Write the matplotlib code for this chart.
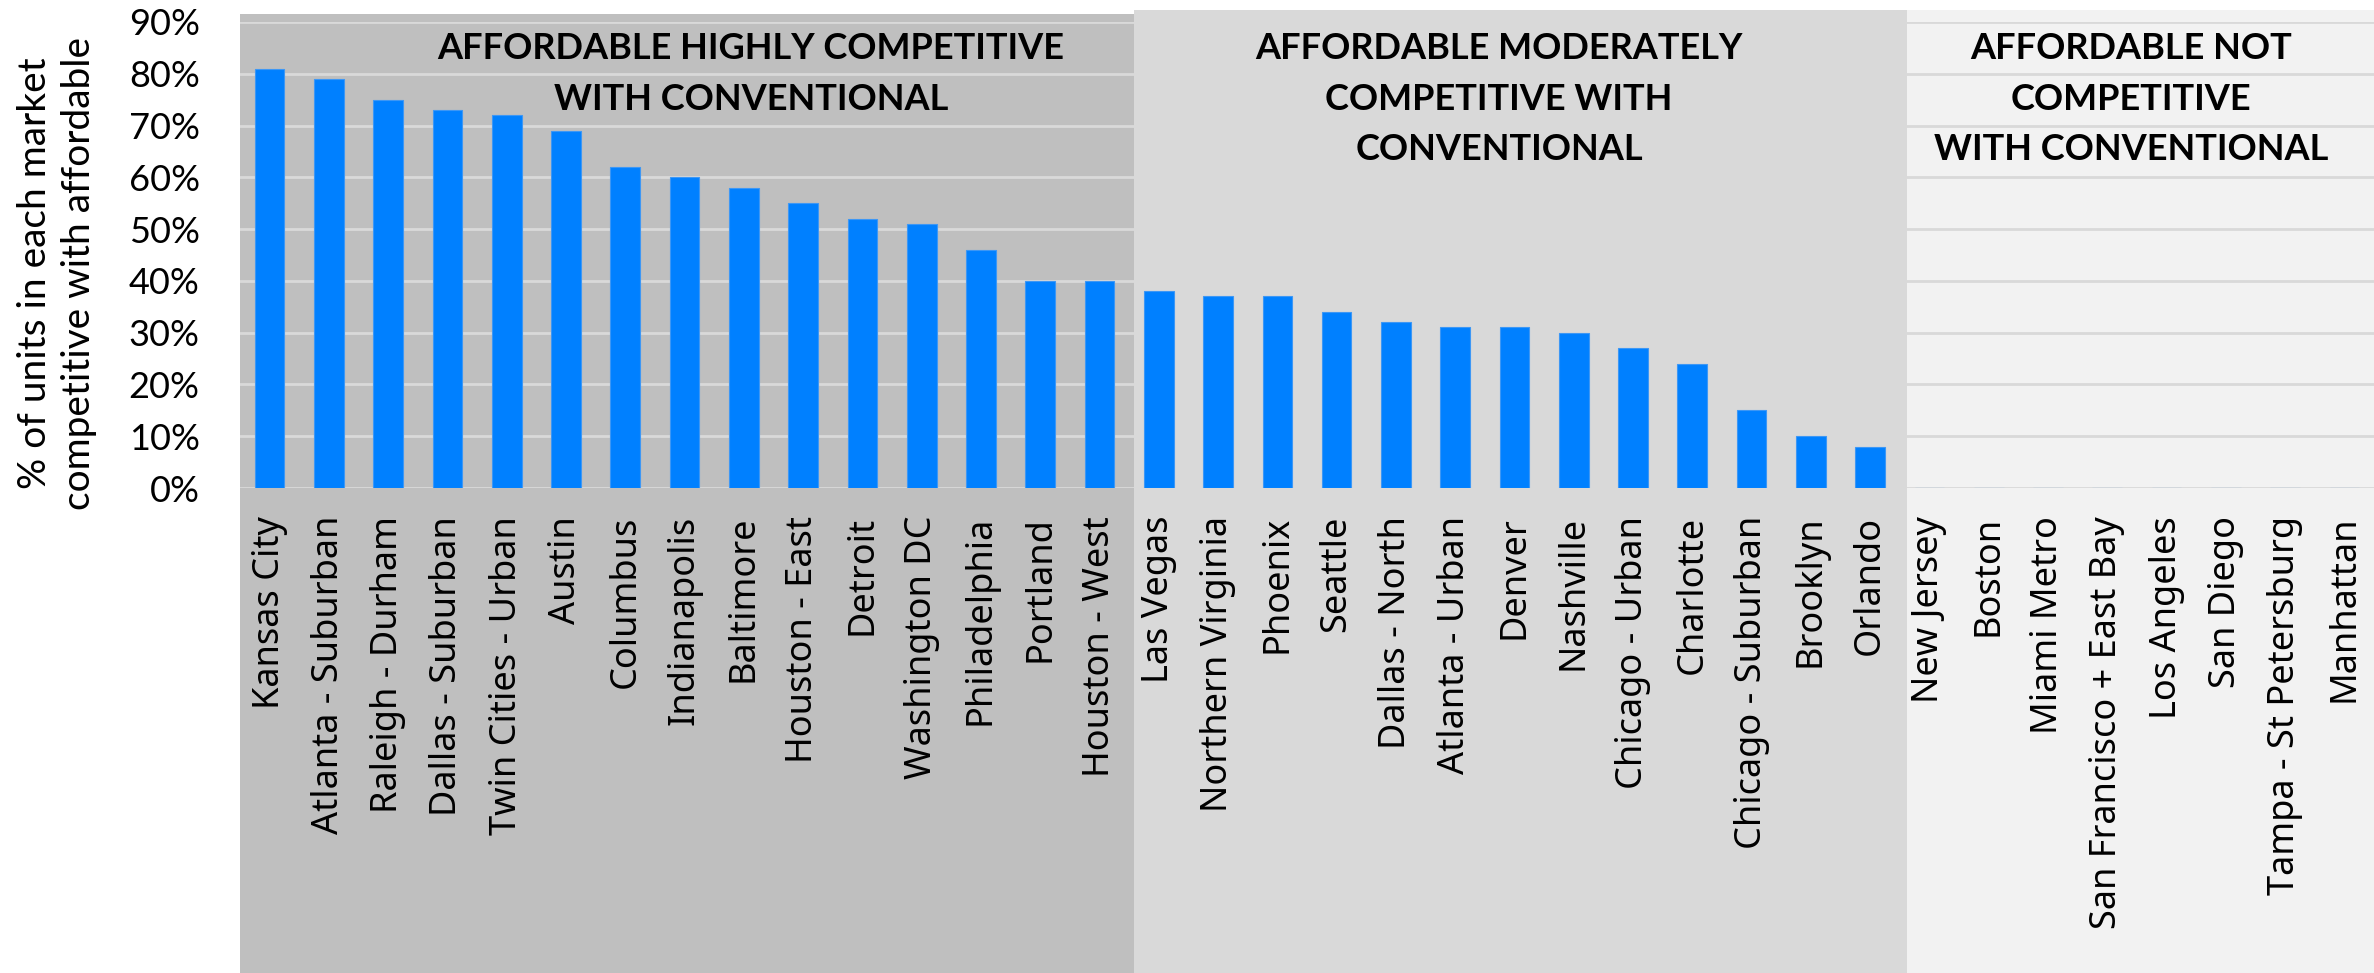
import matplotlib
matplotlib.use("Agg")
import matplotlib.pyplot as plt
import matplotlib.patches as patches
import matplotlib.transforms as transforms
from matplotlib.ticker import FuncFormatter

# markets grouped by how competitive affordable units are with conventional ones
marketsHigh = ['Kansas City', 'Atlanta - Suburban', 'Raleigh - Durham', 'Dallas - Suburban',
               'Twin Cities - Urban', 'Austin', 'Columbus', 'Indianapolis', 'Baltimore',
               'Houston - East', 'Detroit', 'Washington DC', 'Philadelphia', 'Portland',
               'Houston - West']
shareHigh = [81, 79, 75, 73, 72, 69, 62, 60, 58, 55, 52, 51, 46, 40, 40]

marketsMod = ['Las Vegas', 'Northern Virginia', 'Phoenix', 'Seattle', 'Dallas - North',
              'Atlanta - Urban', 'Denver', 'Nashville', 'Chicago - Urban', 'Charlotte',
              'Chicago - Suburban', 'Brooklyn', 'Orlando']
shareMod = [38, 37, 37, 34, 32, 31, 31, 30, 27, 24, 15, 10, 8]

marketsNot = ['New Jersey', 'Boston', 'Miami Metro', 'San Francisco + East Bay', 'Los Angeles',
              'San Diego', 'Tampa - St Petersburg', 'Manhattan']
shareNot = [0, 0, 0, 0, 0, 0, 0, 0]

groupTitles = ['AFFORDABLE HIGHLY COMPETITIVE\nWITH CONVENTIONAL',
               'AFFORDABLE MODERATELY\nCOMPETITIVE WITH\nCONVENTIONAL',
               'AFFORDABLE NOT\nCOMPETITIVE\nWITH CONVENTIONAL']
groupColors = ['#bfbfbf', '#d9d9d9', '#f2f2f2']

yTicks = [0, 10, 20, 30, 40, 50, 60, 70, 80, 90]

markets = marketsHigh + marketsMod + marketsNot
shares = [v / 100.0 for v in shareHigh + shareMod + shareNot]

W, H = 2374, 973
fig = plt.figure(figsize=(W / 100.0, H / 100.0), dpi=100)
ax = fig.add_axes([240.0 / W, 1 - 488.0 / H, 1 - 240.0 / W, (488.0 - 22.0) / H])
ax.patch.set_visible(False)

x = range(len(markets))
ax.bar(x, shares, width=0.5, color='#0080ff', edgecolor='#3d97f5', linewidth=0.8, zorder=2)

ax.set_xlim(-0.5, len(markets) - 0.5)
ax.set_ylim(0, 0.9)
ax.set_yticks([t / 100.0 for t in yTicks])
ax.yaxis.set_major_formatter(FuncFormatter(lambda v, p: '{:.0f}%'.format(v * 100)))
ax.set_xticks(list(x))
ax.set_xticklabels(markets, rotation=90, fontsize=26, family='Noto Sans')
for lbl in ax.get_yticklabels():
    lbl.set_family('Lato')
    lbl.set_fontsize(26)
ax.tick_params(axis='x', length=0, pad=20)
ax.tick_params(axis='y', length=0, pad=29)

ax.set_axisbelow(True)
ax.grid(axis='y', color='#d9d9d9', linewidth=2)
for s in ax.spines.values():
    s.set_visible(False)

# shaded bands behind each group, running down through the labels
trans = transforms.blended_transform_factory(ax.transData, fig.transFigure)
n1 = len(marketsHigh)
n2 = len(marketsMod)
n3 = len(marketsNot)
edges = [-0.5, n1 - 0.42, n1 + n2 - 0.38, len(markets) - 0.5]
tops = [14, 10, 10]
titleX = [n1 / 2.0 + 0.62, n1 + n2 / 2.0 - 0.76, n1 + n2 + n3 / 2.0 - 0.6]
for i in range(3):
    top = 1 - tops[i] / float(H)
    rect = patches.Rectangle((edges[i], 0), edges[i + 1] - edges[i], top,
                             transform=trans, facecolor=groupColors[i],
                             edgecolor='none', clip_on=False, zorder=0.1)
    ax.add_patch(rect)
    ax.text(titleX[i], 1 - 32.0 / H, groupTitles[i], transform=trans,
            ha='center', va='top', multialignment='center',
            fontsize=26, fontweight='bold', family='Lato', linespacing=1.65, zorder=3)

fig.text(57.0 / W, 1 - 273.0 / H,
         '% of units in each market\ncompetitive with affordable',
         rotation=90, ha='center', va='center', multialignment='center',
         fontsize=28, family='Lato', linespacing=1.3)

plt.savefig('out.png', dpi=100)
